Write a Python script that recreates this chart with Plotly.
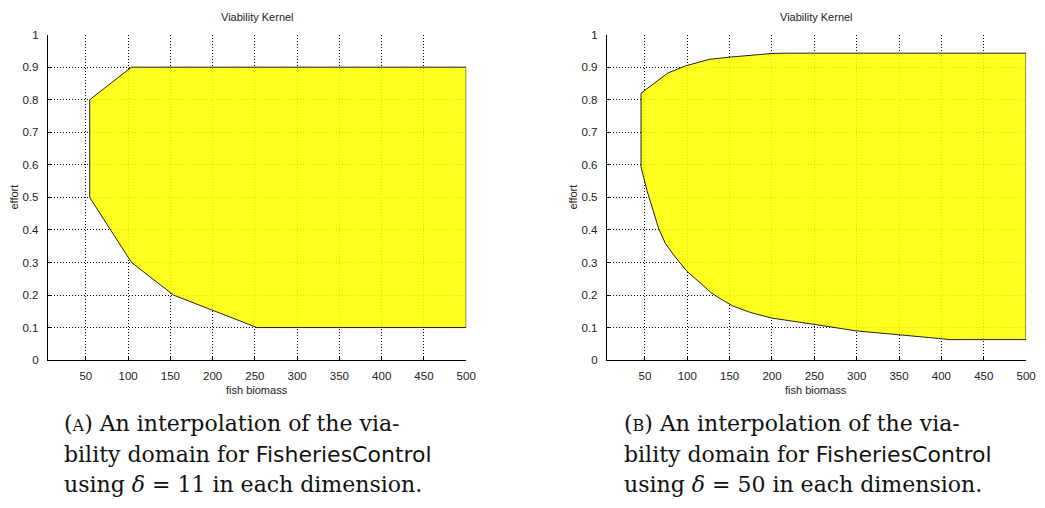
import plotly.graph_objects as go

# Viability kernel boundary, delta = 11 grid (fish biomass, effort)
kernel_a_biomass = [54.5, 104, 500, 500, 252.5, 153.5, 104, 54.5, 54.5]
kernel_a_effort = [0.8, 0.9, 0.9, 0.1, 0.1, 0.2, 0.3, 0.5, 0.8]

# Viability kernel boundary, delta = 50 grid
kernel_b_biomass = [45.4, 77, 98, 126, 151, 200, 215, 500,
                    500, 410, 399.5, 349, 299, 249.5, 224, 200, 175, 154,
                    140, 128.7, 115, 99.5, 83.9, 74.2, 66.4, 58.5, 52.7,
                    45.4, 45.4]
kernel_b_effort = [0.82, 0.882, 0.904, 0.924, 0.931, 0.942, 0.943, 0.943,
                   0.063, 0.063, 0.066, 0.078, 0.090, 0.110, 0.120, 0.129, 0.146, 0.166,
                   0.187, 0.206, 0.238, 0.273, 0.323, 0.358, 0.403, 0.468, 0.518,
                   0.593, 0.82]

x_ticks = [50, 100, 150, 200, 250, 300, 350, 400, 450, 500]
y_ticks = [0, 0.1, 0.2, 0.3, 0.4, 0.5, 0.6, 0.7, 0.8, 0.9, 1]
y_tick_text = ["0", "0.1", "0.2", "0.3", "0.4", "0.5", "0.6", "0.7", "0.8", "0.9", "1"]

W, H = 1045, 508
fill_col = "rgba(255,255,0,0.88)"
tick_font = dict(family="Liberation Sans, Arial, sans-serif", size=11.5, color="#222")

fig = go.Figure()
fig.add_trace(go.Scatter(x=kernel_a_biomass, y=kernel_a_effort, mode="lines",
                         fill="toself", fillcolor=fill_col,
                         line=dict(color="#222", width=1),
                         xaxis="x", yaxis="y", showlegend=False, hoverinfo="skip"))
fig.add_trace(go.Scatter(x=kernel_b_biomass, y=kernel_b_effort, mode="lines",
                         fill="toself", fillcolor=fill_col,
                         line=dict(color="#222", width=1),
                         xaxis="x2", yaxis="y2", showlegend=False, hoverinfo="skip"))

ydom = [(H - 362.7) / H, (H - 29.3) / H]
doms = [[48.3 / W, 470.7 / W], [612.7 / W, 1036 / W]]

def xaxis_cfg(dom, anchor):
    return dict(domain=dom, anchor=anchor, range=[5, 500], tickvals=x_ticks,
                showgrid=True, gridcolor="black", gridwidth=1, griddash="1px,2px",
                showline=True, linecolor="black", linewidth=1,
                ticks="inside", ticklen=4, tickcolor="black", ticklabelstandoff=5,
                tickfont=tick_font, zeroline=False, fixedrange=True)

def yaxis_cfg(anchor):
    return dict(domain=ydom, anchor=anchor, range=[0, 1], tickvals=y_ticks,
                ticktext=y_tick_text,
                showgrid=True, gridcolor="black", gridwidth=1, griddash="1px,2px",
                showline=True, linecolor="black", linewidth=1,
                ticks="inside", ticklen=4, tickcolor="black", ticklabelstandoff=6,
                tickfont=tick_font, zeroline=False, fixedrange=True)

ann = []
label_font = dict(family="Liberation Sans, Arial, sans-serif", size=11, color="#222")
for (x0, x1) in doms:
    cx = (x0 + x1) / 2
    ann.append(dict(text="Viability Kernel", x=cx, y=(H - 11) / H, xref="paper", yref="paper",
                    showarrow=False, font=label_font, xanchor="center", yanchor="middle"))
    ann.append(dict(text="fish biomass", x=cx, y=(H - 393) / H, xref="paper", yref="paper",
                    showarrow=False, font=label_font, xanchor="center", yanchor="middle"))
    ann.append(dict(text="effort", x=x0 - 34 / W, y=(H - 196) / H, xref="paper", yref="paper",
                    showarrow=False, font=label_font, textangle=-90,
                    xanchor="center", yanchor="middle"))

serif = "DejaVu Serif, Liberation Serif, serif"
sans_span = "<span style='font-family:DejaVu Sans, sans-serif'>FisheriesControl</span>"
captions = [
    ("(<span style='font-size:16px'>A</span>) An interpolation of the via-",
     "bility domain for " + sans_span,
     "using <i>δ</i> = 11 in each dimension."),
    ("(<span style='font-size:16px'>B</span>) An interpolation of the via-",
     "bility domain for " + sans_span,
     "using <i>δ</i> = 50 in each dimension."),
]
cap_x = [63, 628]
for cx, lines in zip(cap_x, captions):
    for i, line in enumerate(lines):
        ann.append(dict(text=line, x=cx / W, y=(H - (428 + 31 * i)) / H,
                        xref="paper", yref="paper", showarrow=False,
                        font=dict(family=serif, size=22, color="#111"),
                        xanchor="left", yanchor="middle"))

fig.update_layout(
    width=W, height=H, margin=dict(l=0, r=0, t=0, b=0),
    paper_bgcolor="white", plot_bgcolor="white",
    xaxis=xaxis_cfg(doms[0], "y"), yaxis=yaxis_cfg("x"),
    xaxis2=xaxis_cfg(doms[1], "y2"), yaxis2=yaxis_cfg("x2"),
    annotations=ann, showlegend=False,
)

fig.write_html("out.html")
